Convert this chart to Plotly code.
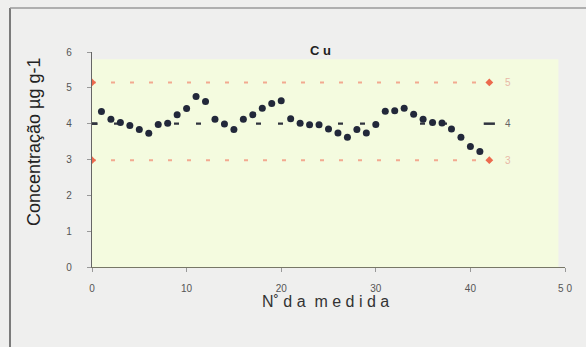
import plotly.graph_objects as go

# ---- data ----
medida = list(range(1, 42))
cu = [4.34, 4.12, 4.03, 3.95, 3.84, 3.73, 3.98, 4.01, 4.25, 4.42,
      4.76, 4.62, 4.12, 3.99, 3.84, 4.12, 4.25, 4.43, 4.56, 4.64,
      4.14, 4.01, 3.97, 3.97, 3.85, 3.74, 3.62, 3.84, 3.74, 3.98,
      4.35, 4.36, 4.43, 4.26, 4.12, 4.03, 4.02, 3.85, 3.62, 3.36,
      3.22]
line_x = [0, 42]
media = 4.0
limite_sup = 5.15
limite_inf = 2.98
rotulos = ["5", "4", "3"]
rotulo_y = [limite_sup, media, limite_inf]
x_ticks = [0, 10, 20, 30, 40, 50]
x_ticktext = ["0", "10", "20", "30", "40", "5 0"]
y_ticks = [0, 1, 2, 3, 4, 5, 6]

W, H = 586, 347
L, R, T, B = 92, 21, 52, 80
pw, ph = W - L - R, H - T - B

def px(xp):
    return (xp - L) / pw

def py(yp):
    return (H - B - yp) / ph

fig = go.Figure()

# limit lines
for val in (limite_sup, limite_inf):
    fig.add_trace(go.Scatter(
        x=line_x, y=[val, val], mode="lines+markers",
        line=dict(color="#f2a990", width=2, dash="4px,15px"),
        marker=dict(symbol="diamond", size=6, color="#ec6a4e"),
        showlegend=False, hoverinfo="skip"))

# mean line
fig.add_trace(go.Scatter(
    x=line_x, y=[media, media], mode="lines+markers",
    line=dict(color="#30343f", width=2.2, dash="5px,17px,5px,55px"),
    marker=dict(symbol="line-ew", size=8, line=dict(color="#30343f", width=2.5)),
    showlegend=False, hoverinfo="skip"))

# measurements
fig.add_trace(go.Scatter(
    x=medida, y=cu, mode="markers",
    marker=dict(symbol="circle", size=7, color="#22283a"),
    showlegend=False))

# right-side labels
for t, yv, c in zip(rotulos, rotulo_y, ["#e8b8a6", "#666666", "#e8b8a6"]):
    fig.add_annotation(x=44, y=yv, text=t, showarrow=False,
                       font=dict(size=10, color=c, family="Liberation Sans"),
                       xanchor="center", yanchor="middle")

# titles
fig.add_annotation(xref="paper", yref="paper", x=px(320), y=py(41),
                   text="<b>C u</b>", showarrow=False,
                   font=dict(size=13, color="#222222", family="Liberation Sans"))
fig.add_annotation(xref="paper", yref="paper", x=px(325), y=py(312),
                   text="N\u02da d a  m e d i d a", showarrow=False,
                   font=dict(size=16, color="#333333", family="Liberation Sans"))
fig.add_annotation(xref="paper", yref="paper", x=px(22), y=py(142),
                   text="Concentração µg g-1", showarrow=False, textangle=-90,
                   font=dict(size=18, color="#222222", family="Liberation Sans"))

# yellow plotting area and outer frame
fig.add_shape(type="rect", xref="x", yref="y", x0=0, x1=49.3, y0=0, y1=5.8,
              fillcolor="#f4fbdf", line=dict(width=0), layer="below")
fig.add_shape(type="line", xref="paper", yref="paper",
              x0=px(10), x1=px(10), y0=py(8), y1=py(347),
              line=dict(color="#555555", width=1.5))
fig.add_shape(type="line", xref="paper", yref="paper",
              x0=px(10), x1=px(586), y0=py(8), y1=py(8),
              line=dict(color="#9a9a9a", width=1.5))

fig.update_xaxes(range=[0, 50], tickvals=x_ticks, ticktext=x_ticktext,
                 showgrid=False, zeroline=False, showline=True,
                 linecolor="#777766", linewidth=1.2, ticks="outside",
                 ticklen=4, tickcolor="#999999", ticklabelstandoff=8,
                 tickfont=dict(size=10, color="#555555", family="Liberation Sans"))
fig.update_yaxes(range=[0, 6], tickvals=y_ticks,
                 showgrid=False, zeroline=False, showline=True,
                 linecolor="#666666", linewidth=1.2, ticks="outside",
                 ticklen=4, tickcolor="#999999", ticklabelstandoff=13,
                 tickfont=dict(size=10, color="#555555", family="Liberation Sans"))

fig.update_layout(width=W, height=H,
                  margin=dict(l=L, r=R, t=T, b=B),
                  paper_bgcolor="#efefee", plot_bgcolor="#efefee",
                  font=dict(family="Liberation Sans"))

fig.write_html("out.html")
